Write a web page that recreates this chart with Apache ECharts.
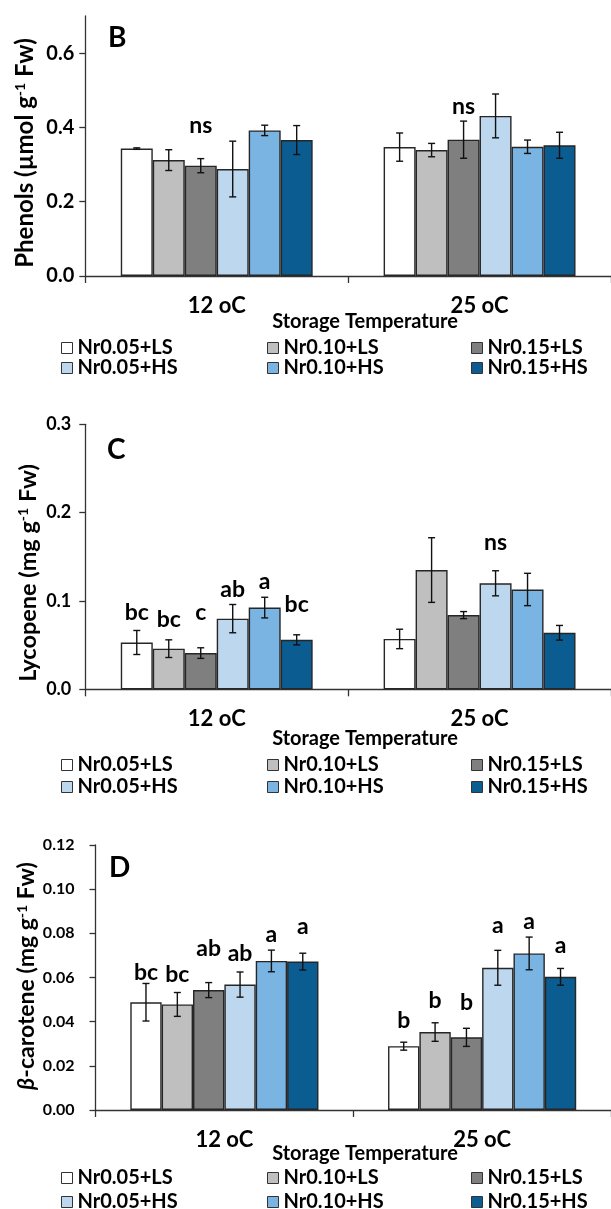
<!DOCTYPE html>
<html><head><meta charset="utf-8">
<script src="https://cdn.jsdelivr.net/npm/echarts@6/dist/echarts.min.js"></script>
<style>html,body{margin:0;padding:0;background:#fff}#c{width:611px;height:1209px}</style>
</head><body><div id="c"></div><script>
const categories = ['12 oC', '25 oC'];
const seriesNames = ['Nr0.05+LS', 'Nr0.10+LS', 'Nr0.15+LS', 'Nr0.05+HS', 'Nr0.10+HS', 'Nr0.15+HS'];

// Panel B - Phenols
const phenols12 = [0.343, 0.312, 0.297, 0.288, 0.392, 0.366];
const phenols25 = [0.347, 0.339, 0.367, 0.431, 0.348, 0.352];
const phenolsErr12 = [0.002, 0.028, 0.019, 0.075, 0.014, 0.039];
const phenolsErr25 = [0.038, 0.018, 0.050, 0.059, 0.018, 0.035];
const phenolsLetters12 = ['', '', 'ns', '', '', ''];
const phenolsLetters25 = ['', '', 'ns', '', '', ''];
const phenolsLetterY12 = [0, 0, 0.406, 0, 0, 0];
const phenolsLetterY25 = [0, 0, 0.455, 0, 0, 0];
const phenolsTicks = ['0.0', '0.2', '0.4', '0.6'];
const phenolsMax = 0.7;

// Panel C - Lycopene
const lycopene12 = [0.053, 0.046, 0.041, 0.080, 0.0925, 0.056];
const lycopene25 = [0.057, 0.135, 0.084, 0.120, 0.113, 0.064];
const lycopeneErr12 = [0.0136, 0.010, 0.006, 0.016, 0.0117, 0.0057];
const lycopeneErr25 = [0.011, 0.0366, 0.004, 0.0142, 0.0183, 0.0083];
const lycopeneLetters12 = ['bc', 'bc', 'c', 'ab', 'a', 'bc'];
const lycopeneLetters25 = ['', '', '', 'ns', '', ''];
const lycopeneLetterY12 = [0.087, 0.0785, 0.087, 0.113, 0.122, 0.0955];
const lycopeneLetterY25 = [0, 0, 0, 0.166, 0, 0];
const lycopeneTicks = ['0.0', '0.1', '0.2', '0.3'];
const lycopeneMax = 0.3;

// Panel D - beta-carotene
const carotene12 = [0.0488, 0.0478, 0.0543, 0.0568, 0.0675, 0.0672];
const carotene25 = [0.0289, 0.0353, 0.0329, 0.0644, 0.0709, 0.0603];
const caroteneErr12 = [0.0085, 0.0054, 0.0034, 0.0057, 0.0049, 0.0038];
const caroteneErr25 = [0.0018, 0.0042, 0.0041, 0.0079, 0.0074, 0.0038];
const caroteneLetters12 = ['bc', 'bc', 'ab', 'ab', 'a', 'a'];
const caroteneLetters25 = ['b', 'b', 'b', 'a', 'a', 'a'];
const caroteneLetterY12 = [0.0624, 0.0614, 0.0731, 0.0707, 0.0794, 0.0829];
const caroteneLetterY25 = [0.0407, 0.0497, 0.0486, 0.0835, 0.0852, 0.0745];
const caroteneTicks = ['0.00', '0.02', '0.04', '0.06', '0.08', '0.10', '0.12'];
const caroteneMax = 0.12;

// ---- styling / layout ----
const FONT = 'Lato, "Open Sans", "Noto Sans", sans-serif';
const barColors = ['#FFFFFF', '#BFBFBF', '#7F7F7F', '#BDD7EE', '#7AB4E3', '#0B5C91'];
const edge = '#262626';
const gapFrac = 0.27;

const panels = [
  { letter: 'B', means: [phenols12, phenols25], errs: [phenolsErr12, phenolsErr25],
    letters: [phenolsLetters12, phenolsLetters25], letterY: [phenolsLetterY12, phenolsLetterY25],
    ticks: phenolsTicks, max: phenolsMax,
    name: 'Phenols (µmol g{sup|-1} Fw)', nameFont: 24,
    grid: { left: 85.3, top: 16, width: 530, height: 260 },
    tickFont: 20, tickMargin: 11, nameX: 25, nameY: 153, letterPos: [108, 38],
    xTitleY: 322, legendTop: 338, legendRow: 20 },
  { letter: 'C', means: [lycopene12, lycopene25], errs: [lycopeneErr12, lycopeneErr25],
    letters: [lycopeneLetters12, lycopeneLetters25], letterY: [lycopeneLetterY12, lycopeneLetterY25],
    ticks: lycopeneTicks, max: lycopeneMax,
    name: 'Lycopene (mg g{sup|-1} Fw)', nameFont: 23.5,
    grid: { left: 85.3, top: 424.3, width: 536, height: 265 },
    tickFont: 18, tickMargin: 14, nameX: 28, nameY: 573, letterPos: [107, 450],
    xTitleY: 739, legendTop: 754, legendRow: 22 },
  { letter: 'D', means: [carotene12, carotene25], errs: [caroteneErr12, caroteneErr25],
    letters: [caroteneLetters12, caroteneLetters25], letterY: [caroteneLetterY12, caroteneLetterY25],
    ticks: caroteneTicks, max: caroteneMax,
    name: '{it|β}-carotene (mg g{sup|-1} Fw)', nameFont: 23,
    grid: { left: 95.5, top: 845, width: 526, height: 265 },
    tickFont: 16, tickMargin: 21, nameX: 27, nameY: 976, letterPos: [109, 868],
    xTitleY: 1154, legendTop: 1166, legendRow: 24 }
];
const legendCols = [61, 267, 471];

const grids = [], xAxes = [], yAxes = [], series = [], legends = [], graphics = [];

panels.forEach((p, pi) => {
  grids.push(Object.assign({ containLabel: false }, p.grid));
  const dec = p.ticks[0].split('.')[1].length;
  xAxes.push({
    type: 'category', gridIndex: pi, data: categories,
    axisLine: { lineStyle: { color: '#333', width: 1.3 } },
    axisTick: { show: true, length: 7, alignWithLabel: false, lineStyle: { color: '#333', width: 1.3 } },
    axisLabel: { margin: 19, color: '#000', fontFamily: FONT, fontWeight: 'bold', fontSize: 22 },
    splitLine: { show: false }
  });
  yAxes.push({
    type: 'value', gridIndex: pi, min: 0, max: p.max,
    axisLine: { show: true, lineStyle: { color: '#333', width: 1.3 } },
    axisTick: { show: true, length: 6, customValues: p.ticks.map(Number), lineStyle: { color: '#333', width: 1.3 } },
    axisLabel: { margin: p.tickMargin, color: '#000', fontFamily: FONT, fontWeight: 'bold', fontSize: p.tickFont,
      customValues: p.ticks.map(Number), formatter: v => v.toFixed(dec) },
    splitLine: { show: false }
  });
  seriesNames.forEach((nm, i) => {
    series.push({
      type: 'bar', name: nm, xAxisIndex: pi, yAxisIndex: pi,
      barGap: '0%', barCategoryGap: (gapFrac * 100) + '%',
      data: [p.means[0][i], p.means[1][i]],
      itemStyle: { color: barColors[i], borderColor: edge, borderWidth: 1.4 },
      emphasis: { disabled: true }, z: 2
    });
  });
  const errData = [], letData = [], letText = [];
  [0, 1].forEach(c => {
    for (let i = 0; i < 6; i++) {
      errData.push([c, i, p.means[c][i], p.errs[c][i]]);
      if (p.letters[c][i]) { letData.push([c, i, p.letterY[c][i]]); letText.push(p.letters[c][i]); }
    }
  });
  series.push({
    type: 'custom', xAxisIndex: pi, yAxisIndex: pi, z: 5, silent: true,
    data: errData, encode: { x: 0, y: 2 },
    renderItem: (params, api) => {
      const c = api.value(0), i = api.value(1), m = api.value(2), e = api.value(3);
      const catW = api.size([1, 0])[0];
      const bw = catW * (1 - gapFrac) / 6;
      const x = api.coord([c, 0])[0] + (i - 2.5) * bw;
      const yt = api.coord([c, m + e])[1], yb = api.coord([c, m - e])[1];
      const cw = 3.5, st = { stroke: '#111', lineWidth: 1.4 };
      return { type: 'group', children: [
        { type: 'line', shape: { x1: x, y1: yt, x2: x, y2: yb }, style: st },
        { type: 'line', shape: { x1: x - cw, y1: yt, x2: x + cw, y2: yt }, style: st },
        { type: 'line', shape: { x1: x - cw, y1: yb, x2: x + cw, y2: yb }, style: st }
      ] };
    }
  });
  series.push({
    type: 'custom', xAxisIndex: pi, yAxisIndex: pi, z: 6, silent: true,
    data: letData, encode: { x: 0, y: 2 },
    renderItem: (params, api) => {
      const c = api.value(0), i = api.value(1), v = api.value(2);
      const catW = api.size([1, 0])[0];
      const bw = catW * (1 - gapFrac) / 6;
      const x = api.coord([c, 0])[0] + (i - 2.5) * bw;
      const y = api.coord([c, v])[1];
      return { type: 'text', x: x, y: y, style: { text: letText[params.dataIndex], fill: '#000',
        font: 'bold 23px ' + FONT, align: 'center', verticalAlign: 'middle' } };
    }
  });
  // legends: one per column, LS on top, HS below
  for (let col = 0; col < 3; col++) {
    legends.push({
      orient: 'vertical', left: legendCols[col], top: p.legendTop, height: 60, padding: 0, itemGap: 0,
      itemWidth: 11, itemHeight: 11, icon: 'rect', selectedMode: false,
      data: [seriesNames[col], seriesNames[col + 3]],
      itemStyle: { borderColor: '#333', borderWidth: 1 },
      textStyle: { color: '#000', fontFamily: FONT, fontWeight: 'bold', fontSize: 20, lineHeight: p.legendRow }
    });
  }
  graphics.push({
    type: 'text', x: p.letterPos[0], y: p.letterPos[1],
    style: { text: p.letter, fill: '#000', font: 'bold 28px ' + FONT, align: 'left', verticalAlign: 'middle' }
  });
  graphics.push({
    type: 'text', x: 365, y: p.xTitleY,
    style: { text: 'Storage Temperature', fill: '#000', font: 'bold 20px ' + FONT, align: 'center', verticalAlign: 'middle' }
  });
  graphics.push({
    type: 'text', x: p.nameX, y: p.nameY, rotation: Math.PI / 2,
    style: { text: p.name, fill: '#000', font: 'bold ' + p.nameFont + 'px ' + FONT, align: 'center', verticalAlign: 'middle',
      rich: {
        sup: { fontSize: 14, fontWeight: 'bold', fontFamily: FONT, fill: '#000', verticalAlign: 'top', padding: [0, 0, 8, 0] },
        it: { fontSize: p.nameFont, fontWeight: 'bold', fontStyle: 'italic', fontFamily: FONT, fill: '#000' }
      } }
  });
});

const chart = echarts.init(document.getElementById('c'), null, { renderer: 'canvas' });
chart.setOption({
  animation: false,
  backgroundColor: '#fff',
  grid: grids, xAxis: xAxes, yAxis: yAxes, series: series, legend: legends,
  graphic: graphics
});
</script></body></html>
